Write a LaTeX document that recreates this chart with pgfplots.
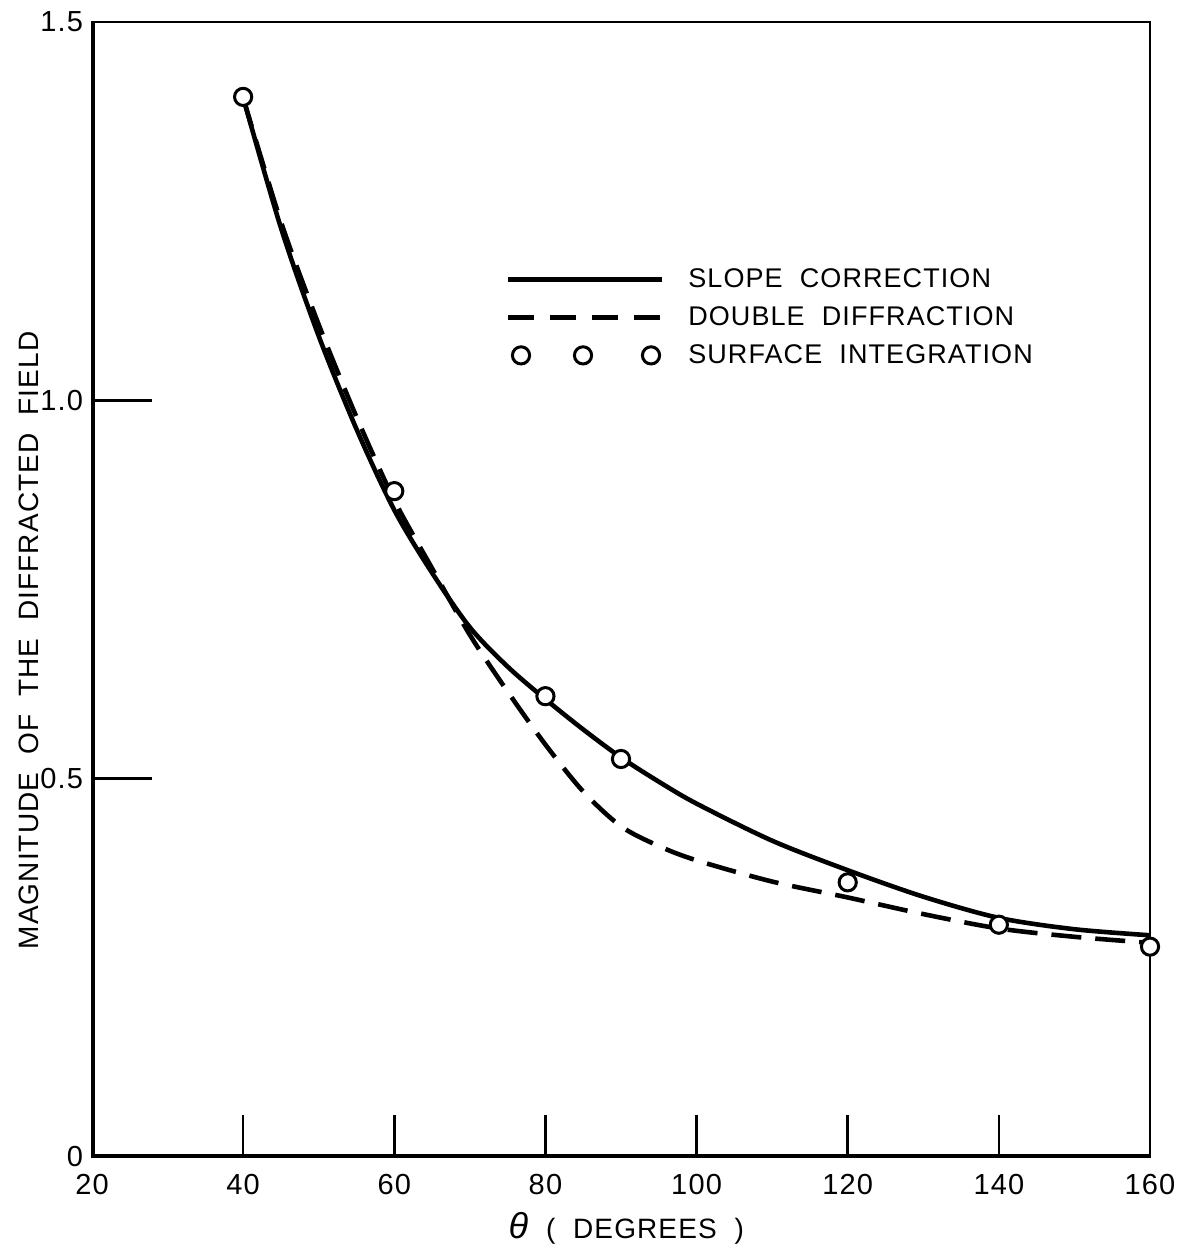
\documentclass[border=0pt]{standalone}
\usepackage{fontspec}
\setmainfont{Liberation Sans}[WordSpace=2,LetterSpace=4]
\usepackage{pgfplots}
\usepackage{pgfplotstable}
\pgfplotsset{compat=1.18}

\pgfplotsset{
    lineleg/.style={legend image code/.code={\draw[##1] (0pt,0pt) -- (77pt,0pt); \path (87pt,0pt);}},
    dashleg/.style={legend image code/.code={\draw[black, line width=2.3pt, dash pattern=on 13pt off 8pt] (0pt,0pt) -- (77pt,0pt); \path (87pt,0pt);}},
    markleg/.style={legend image code/.code={\draw[##1] plot coordinates {(6.5pt,0pt) (37.5pt,0pt) (71.5pt,0pt)}; \path (87pt,0pt);}},
}

% slope correction
\pgfplotstableread{
x y
40 1.400
45 1.228
50 1.085
55 0.962
60 0.855
65 0.772
70 0.700
75 0.648
80 0.605
85 0.565
90 0.528
95 0.496
100 0.467
110 0.418
120 0.379
130 0.344
140 0.316
150 0.301
160 0.293
}\slopetab

% double diffraction
\pgfplotstableread{
x y
40 1.400
45 1.236
50 1.100
55 0.978
60 0.868
65 0.778
70 0.690
75 0.615
80 0.545
85 0.483
90 0.437
95 0.411
100 0.392
110 0.364
120 0.343
130 0.321
140 0.302
150 0.291
160 0.283
}\doubletab

% surface integration
\pgfplotstableread{
x y
40 1.401
60 0.880
80 0.609
90 0.526
120 0.363
140 0.307
160 0.278
}\surftab

\begin{document}
\begin{tikzpicture}
\begin{axis}[
    name=ax,
    scale only axis,
    width=529pt, height=567.5pt,
    xmin=20, xmax=160, ymin=0, ymax=1.5,
    axis line style={line width=1pt},
    xtick={20,40,...,160},
    ytick={0,1.5}, yticklabels={0,1.5},
    extra y ticks={0.5,1},
    extra y tick labels={0.5,1.0},
    extra y tick style={major tick length=30pt},
    xtick pos=bottom, ytick pos=left,
    tick align=inside,
    major tick length=21pt,
    tick style={line width=1.3pt, black},
    /pgf/number format/assume math mode=true,
    tick label style={font=\fontsize{14.5}{16}\selectfont},
    xticklabel style={yshift=-5pt},
    yticklabel style={xshift=-1pt},
    xlabel={{\fontsize{18}{18}\selectfont\itshape θ}\ ( DEGREES )},
    xlabel style={font=\fontsize{14}{16}\selectfont, at={(axis description cs:0.505,-0.063)}, anchor=center},
    ylabel={MAGNITUDE OF THE DIFFRACTED FIELD},
    ylabel style={font=\fontsize{14}{16}\selectfont, at={(axis description cs:-0.060,0.455)}, anchor=center},
    legend style={at={(0.385,0.79)}, anchor=north west, draw=none, fill=none,
        font=\fontsize{13.5}{15}\selectfont, row sep=4pt},
    legend cell align=left,
]
\addplot[black, line width=2.3pt, smooth, lineleg]
    table[x=x,y=y] {\slopetab};
\addlegendentry{SLOPE CORRECTION}
\addplot[black, line width=2.3pt, smooth, dash pattern=on 15pt off 7pt, dashleg]
    table[x=x,y=y] {\doubletab};
\addlegendentry{DOUBLE DIFFRACTION}
\addplot[only marks, mark=*, mark size=4.3pt,
    mark options={fill=white, draw=black, line width=1.5pt}, markleg]
    table[x=x,y=y] {\surftab};
\addlegendentry{SURFACE INTEGRATION}
\draw[line width=2.6pt, line cap=rect] (rel axis cs:0,1) -- (rel axis cs:0,0) -- (rel axis cs:1,0);
\end{axis}
\pgfresetboundingbox
\useasboundingbox ([xshift=-46pt,yshift=-46.5pt]ax.south west) rectangle ([xshift=17pt,yshift=11pt]ax.north east);
\end{tikzpicture}
\end{document}
